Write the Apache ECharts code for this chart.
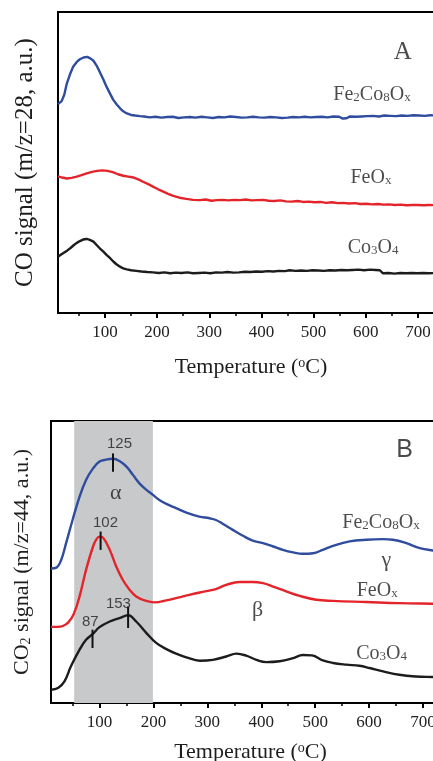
<!DOCTYPE html>
<html>
<head>
<meta charset="utf-8">
<script src="https://cdn.jsdelivr.net/npm/echarts@6/dist/echarts.min.js"></script>
<style>
  html, body { margin: 0; padding: 0; background: #fff; }
  #chart { width: 433px; height: 761px; }
</style>
</head>
<body>
<div id="chart"></div>
<script>
// Temperature axis ticks (°C)
const tempTicks = [100, 200, 300, 400, 500, 600, 700];
const tempMinorTicks = [50, 150, 250, 350, 450, 550, 650, 750];
const tempRange = [10, 750];

// Panel A: CO signal (m/z = 28), arbitrary units, offset traces
const coFe2Co8Ox = [
  [10,69.4],[17,70.4],[22,72.5],[27,76.3],[33,79.3],[39,81.8],[46,83.4],[52,84.3],[59,84.9],[66,85.1],
  [72,84.6],[78,83.8],[84,82.2],[90,80.1],[97,77.6],[103,75.2],[110,72.8],[116,70.8],[123,69.2],[129,68.0],
  [135,67.0],[142,66.3],[150,65.8],[158,65.6],[167,65.4],[175,65.3],[186,65.0],[197,65.2],[208,64.9],[219,65.1],
  [230,65.2],[241,64.8],[252,65.0],[263,65.1],[274,64.9],[285,65.2],[296,65.0],[307,64.8],[318,65.1],[329,65.0],
  [340,65.3],[351,65.1],[362,64.9],[373,65.0],[384,65.2],[395,65.0],[406,64.9],[417,65.1],[428,65.0],[439,64.8],
  [450,64.9],[461,65.1],[472,65.0],[483,65.2],[494,65.0],[505,65.1],[516,65.2],[527,65.0],[538,65.3],[549,65.2],
  [556,64.6],[563,64.7],[570,65.3],[581,65.2],[592,65.3],[603,65.4],[614,65.5],[625,65.3],[636,65.6],[647,65.5],
  [658,65.4],[669,65.6],[680,65.5],[691,65.7],[702,65.6],[713,65.5],[724,65.7],[735,65.6],[750,65.7]
];
const coFeOx = [
  [10,45.4],[18,45.0],[27,44.7],[36,44.9],[46,45.3],[55,45.8],[65,46.4],[75,46.9],[85,47.2],[95,47.4],
  [105,47.2],[115,46.8],[125,46.1],[135,45.6],[145,45.3],[155,45.0],[164,44.4],[173,43.6],[183,42.8],[192,42.0],
  [202,41.1],[212,40.3],[221,39.6],[231,38.9],[243,38.3],[256,37.9],[269,37.6],[282,37.5],[293,37.7],[304,37.3],
  [315,37.5],[326,37.6],[337,37.4],[348,37.6],[359,37.5],[370,37.7],[381,37.4],[392,37.5],[403,37.6],[414,37.3],
  [425,37.2],[436,37.4],[447,37.1],[458,37.0],[469,37.2],[480,36.9],[491,37.0],[502,36.8],[513,36.9],[524,36.6],
  [535,36.8],[546,36.5],[557,36.6],[568,36.4],[579,36.5],[590,36.2],[601,36.3],[612,36.1],[623,36.2],[634,36.0],
  [645,36.1],[656,35.9],[667,36.0],[678,35.8],[689,35.9],[700,35.9],[711,35.8],[722,35.9],[735,35.8],[750,35.9]
];
const coCo3O4 = [
  [10,18.7],[16,19.4],[22,20.1],[28,20.8],[34,21.6],[40,22.5],[46,23.3],[52,23.9],[58,24.4],[65,24.6],
  [71,24.3],[78,23.7],[84,22.6],[90,21.5],[97,20.4],[103,19.3],[110,18.2],[116,17.1],[122,16.2],[129,15.4],
  [135,14.8],[142,14.5],[150,14.2],[160,14.0],[170,13.8],[181,13.6],[192,13.5],[203,13.3],[214,13.5],[225,13.2],
  [236,13.4],[247,13.3],[258,13.5],[269,13.2],[280,13.3],[291,13.4],[302,13.2],[313,13.5],[324,13.4],[335,13.6],
  [346,13.4],[357,13.5],[368,13.7],[379,13.6],[390,13.8],[401,13.7],[412,13.9],[423,13.8],[434,14.0],[445,13.9],
  [454,14.2],[465,14.0],[476,14.1],[487,14.0],[498,14.2],[509,14.1],[520,14.0],[531,14.2],[542,14.1],[553,14.3],
  [564,14.2],[575,14.3],[586,14.4],[597,14.2],[608,14.4],[619,14.3],[627,14.2],[633,13.2],[644,13.3],[655,13.1],
  [666,13.3],[677,13.2],[688,13.3],[699,13.2],[710,13.3],[721,13.2],[735,13.3],[750,13.2]
];

// Panel B: CO2 signal (m/z = 44), arbitrary units, offset traces
const co2Fe2Co8Ox = [
  [10,47.7],[20,48.0],[29,50.8],[38,56.7],[50,64.9],[63,73.2],[75,79.1],[88,83.2],[100,85.6],[112,86.3],
  [125,86.6],[137,85.8],[150,83.8],[162,80.9],[174,77.9],[187,75.6],[199,73.8],[211,72.0],[224,70.6],[242,69.1],
  [261,67.5],[285,66.1],[304,65.5],[316,64.9],[329,63.5],[347,61.4],[366,59.3],[384,57.6],[403,56.7],[422,55.5],
  [440,54.3],[459,53.4],[477,52.9],[496,53.1],[514,54.3],[533,55.7],[564,57.3],[595,57.9],[625,58.1],[644,57.9],
  [669,56.7],[694,54.9],[718,54.1],[750,53.4]
];
const co2FeOx = [
  [10,27.0],[22,27.0],[32,27.3],[42,28.6],[52,31.5],[63,37.8],[75,47.2],[88,55.5],[95,58.3],[101,59.0],
  [108,58.3],[119,54.3],[131,48.4],[143,43.7],[156,40.1],[168,37.8],[185,36.3],[202,35.7],[224,36.4],[255,37.8],
  [286,39.2],[316,40.4],[335,41.9],[360,42.9],[384,42.9],[403,42.5],[422,41.3],[446,39.6],[471,38.0],[502,36.6],
  [533,36.2],[595,35.8],[656,35.4],[718,35.2],[750,35.1]
];
const co2Co3O4 = [
  [10,4.7],[23,5.3],[35,7.7],[47,13.0],[63,18.9],[75,22.4],[87,24.4],[100,26.9],[119,28.9],[137,30.1],
  [153,31.1],[168,28.9],[187,24.8],[205,21.3],[224,19.1],[242,17.5],[261,16.2],[286,15.0],[310,15.3],[335,16.5],
  [354,17.5],[372,16.8],[391,15.3],[409,14.5],[434,14.8],[459,15.9],[477,17.0],[494,16.9],[514,15.1],[533,14.2],
  [558,13.6],[582,13.2],[601,12.4],[626,11.2],[656,10.0],[687,9.4],[718,9.2],[750,9.0]
];

// Peak positions (°C) with the span of each marker stroke
const peakTemps = [125, 102, 153, 87];
const peakSpans = [[82.0, 88.5], [54.3, 60.8], [26.6, 34.2], [19.5, 26.0]];
const peakLabelAt = [[137, 91.8], [111, 63.8], [135, 35.0], [83, 28.9]];

// Low-temperature desorption window (°C)
const alphaWindow = [53, 199];

const serif = '"Liberation Serif", "Times New Roman", serif';
const sans = '"Liberation Sans", Arial, sans-serif';
const ink = '#1e1e1e';
const blue = '#2f4c9e';
const red = '#e3242b';
const black = '#1c1c1c';

const subRich = {
  s: { fontFamily: serif, fontSize: 13, color: ink, verticalAlign: 'bottom', padding: [0, 0, 1, 0] }
};
const supRich = {
  o: { fontFamily: serif, fontSize: 14, color: ink, verticalAlign: 'top' }
};

function tempAxis(grid, major, nameGap, labelMargin) {
  return {
    type: 'value', gridIndex: grid, position: 'bottom',
    min: tempRange[0], max: tempRange[1],
    axisLine: { show: major, lineStyle: { color: '#000', width: 2 } },
    axisTick: major
      ? { show: true, customValues: tempTicks, length: 5, lineStyle: { color: '#000', width: 2 } }
      : { show: true, customValues: tempMinorTicks, length: 3, lineStyle: { color: '#000', width: 1.5 } },
    axisLabel: major
      ? { show: true, customValues: tempTicks, fontFamily: serif, fontSize: 17, color: '#222', margin: labelMargin }
      : { show: false },
    splitLine: { show: false },
    name: major ? 'Temperature ({o|o}C)' : '',
    nameLocation: 'middle', nameGap: nameGap,
    nameTextStyle: { fontFamily: serif, fontSize: 22, color: ink, rich: supRich }
  };
}

function signalAxis(grid, name, nameGap, size) {
  return {
    type: 'value', gridIndex: grid, min: 0, max: 100,
    axisLine: { show: false }, axisTick: { show: false },
    axisLabel: { show: false }, splitLine: { show: false },
    name: name, nameLocation: 'middle', nameRotate: 90, nameGap: nameGap,
    nameTextStyle: {
      fontFamily: serif, fontSize: size, color: ink,
      rich: { s: { fontFamily: serif, fontSize: 14, color: ink, verticalAlign: 'bottom' } }
    }
  };
}

function trace(xi, yi, data, color, width, smooth) {
  return {
    type: 'line', xAxisIndex: xi, yAxisIndex: yi, data: data,
    showSymbol: false, symbol: 'none', smooth: smooth, silent: true,
    lineStyle: { color: color, width: width }, z: 3
  };
}

function texts(xi, yi, items, style) {
  return {
    type: 'scatter', xAxisIndex: xi, yAxisIndex: yi, symbolSize: 0, silent: true, z: 5,
    itemStyle: { color: 'transparent' },
    data: items.map(it => ({ value: it[0], label: { formatter: it[1] } })),
    label: Object.assign({ show: true, position: 'inside', align: 'center', verticalAlign: 'middle' }, style)
  };
}

const serifLabel = { fontFamily: serif, fontSize: 20, color: ink, rich: subRich };

const series = [
  // Panel A
  trace(0, 0, coFe2Co8Ox, blue, 2.4, false),
  trace(0, 0, coFeOx, red, 2.4, false),
  trace(0, 0, coCo3O4, black, 2.4, false),
  texts(0, 0, [
    [[612, 72.4], 'Fe{s|2}Co{s|8}O{s|x}'],
    [[610, 44.9], 'FeO{s|x}'],
    [[614, 21.6], 'Co{s|3}O{s|4}']
  ], serifLabel),
  texts(0, 0, [[[671, 86.7], 'A']], { fontFamily: serif, fontSize: 25, color: ink }),

  // Panel B
  {
    type: 'line', xAxisIndex: 2, yAxisIndex: 1, data: [], silent: true, z: 1,
    markArea: {
      silent: true,
      itemStyle: { color: '#c8c9cb' },
      data: [[{ xAxis: alphaWindow[0] }, { xAxis: alphaWindow[1] }]]
    }
  },
  trace(2, 1, co2Fe2Co8Ox, blue, 2.4, 0.4),
  trace(2, 1, co2FeOx, red, 2.4, 0.4),
  trace(2, 1, co2Co3O4, black, 2.4, 0.4),
  texts(2, 1, [
    [[622, 63.9], 'Fe{s|2}Co{s|8}O{s|x}'],
    [[615, 39.8], 'FeO{s|x}'],
    [[623, 17.5], 'Co{s|3}O{s|4}']
  ], serifLabel),
  texts(2, 1, [
    [[130, 74.5], 'α'],
    [[393, 33.0], 'β'],
    [[632, 50.8], 'γ']
  ], { fontFamily: serif, fontSize: 22, color: ink }),
  texts(2, 1, [[[666, 89.7], 'B']], { fontFamily: sans, fontSize: 25, color: ink }),
  texts(2, 1, peakTemps.map((t, i) => [peakLabelAt[i], String(t)]),
    { fontFamily: sans, fontSize: 15, color: ink })
];

// Short vertical strokes marking the peak maxima
peakTemps.forEach((t, i) => {
  series.push({
    type: 'line', xAxisIndex: 2, yAxisIndex: 1, silent: true, z: 4,
    showSymbol: false, symbol: 'none',
    data: [[t, peakSpans[i][0]], [t, peakSpans[i][1]]],
    lineStyle: { color: '#111', width: 2 }
  });
});

const option = {
  animation: false,
  backgroundColor: '#fff',
  grid: [
    { left: 58, top: 12, width: 386, height: 301, outerBoundsMode: 'none', containLabel: false,
      show: true, borderColor: '#000', borderWidth: 2, backgroundColor: 'transparent' },
    { left: 51, top: 421, width: 399, height: 282, outerBoundsMode: 'none', containLabel: false,
      show: true, borderColor: '#000', borderWidth: 2, backgroundColor: 'transparent' }
  ],
  xAxis: [
    tempAxis(0, true, 43, 11),
    tempAxis(0, false, 0, 0),
    tempAxis(1, true, 38, 11),
    tempAxis(1, false, 0, 0)
  ],
  yAxis: [
    signalAxis(0, 'CO signal (m/z=28, a.u.)', 20, 25),
    signalAxis(1, 'CO{s|2} signal (m/z=44, a.u.)', 18, 22)
  ],
  series: series
};

const chart = echarts.init(document.getElementById('chart'), null, { renderer: 'canvas' });
chart.setOption(option);
</script>
</body>
</html>
